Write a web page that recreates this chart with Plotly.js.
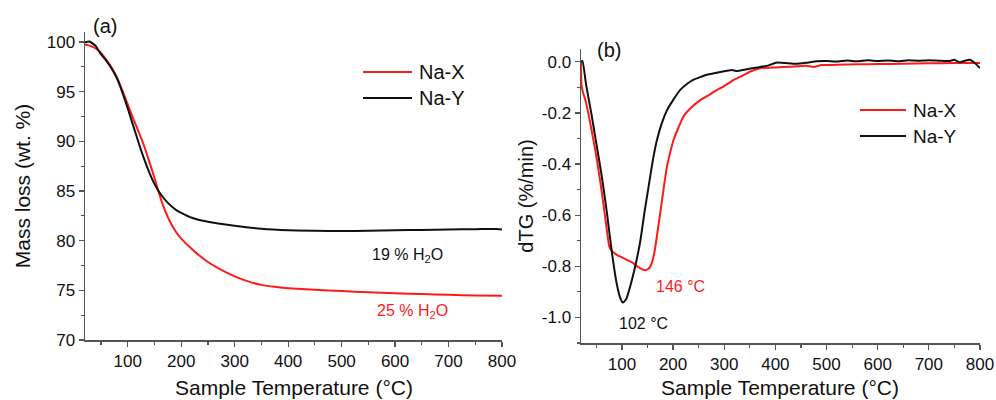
<!DOCTYPE html>
<html>
<head>
<meta charset="utf-8">
<script src="https://cdn.plot.ly/plotly-3.0.1.min.js"></script>
<style>html,body{margin:0;padding:0;background:#fff;}#chart{width:996px;height:400px;}</style>
</head>
<body>
<div id="chart"></div>
<script>
// ---- (a) TGA mass loss ----
const tgaNaX_T = [20,30,40,50,60,70,80,90,100,110,120,130,140,150,160,170,180,190,200,225,250,275,300,325,350,375,400,450,500,550,600,650,700,750,800];
const tgaNaX_M = [99.75,99.6,99.35,98.9,98.2,97.4,96.4,95.1,93.7,92.3,91.0,89.6,88.0,86.3,84.5,83.0,81.8,80.9,80.2,78.9,77.85,77.05,76.4,75.9,75.55,75.35,75.22,75.05,74.92,74.8,74.7,74.62,74.55,74.48,74.45];
const tgaNaY_T = [20,28,40,48,60,70,80,90,100,110,120,130,140,150,160,175,190,200,220,250,300,350,400,450,500,550,600,650,700,750,790,800];
const tgaNaY_M = [99.95,100.05,99.6,98.9,98.1,97.3,96.3,94.9,93.3,91.6,89.9,88.3,86.9,85.7,84.8,83.8,83.1,82.8,82.3,81.9,81.5,81.2,81.05,81.0,80.97,81.0,81.05,81.08,81.12,81.15,81.18,81.12];

// ---- (b) dTG ----
const dtgNaX_T = [20,21,24,30,40,50,60,70,75,80,90,100,110,120,130,140,146,152,158,164,170,175,182,188,195,201,210,220,235,253,270,286,300,318,335,351,370,400,430,460,475,490,520,560,600,650,700,750,800];
const dtgNaX_V = [0.0,-0.09,-0.12,-0.16,-0.26,-0.37,-0.5,-0.65,-0.72,-0.74,-0.755,-0.765,-0.775,-0.785,-0.8,-0.812,-0.815,-0.81,-0.79,-0.74,-0.66,-0.59,-0.49,-0.41,-0.35,-0.305,-0.26,-0.215,-0.18,-0.15,-0.13,-0.11,-0.095,-0.072,-0.055,-0.038,-0.025,-0.022,-0.019,-0.016,-0.02,-0.013,-0.012,-0.01,-0.009,-0.008,-0.006,-0.005,-0.005];
const dtgNaY_T = [20,23,30,40,50,60,70,80,90,97,102,108,116,126,136,144,152,160,168,178,188,200,214,227,240,253,266,285,305,315,325,344,365,383,403,420,440,460,481,500,520,540,560,580,600,620,640,660,680,700,720,740,750,760,770,780,790,800];
const dtgNaY_V = [0.0,0.003,-0.09,-0.2,-0.32,-0.44,-0.58,-0.74,-0.87,-0.925,-0.942,-0.93,-0.88,-0.8,-0.7,-0.59,-0.49,-0.39,-0.31,-0.24,-0.19,-0.15,-0.11,-0.087,-0.07,-0.06,-0.051,-0.043,-0.035,-0.032,-0.036,-0.029,-0.022,-0.016,-0.003,-0.005,-0.008,-0.004,0.002,0.003,0.001,0.005,0.002,0.006,0.003,0.005,0.002,0.006,0.004,0.006,0.004,0.003,0.008,-0.002,0.004,0.008,-0.005,-0.025];

// ---- tick labels ----
const xTickVals = [100,200,300,400,500,600,700,800];
const xTickText = ["100","200","300","400","500","600","700","800"];
const yaTickVals = [70,75,80,85,90,95,100];
const yaTickText = ["70","75","80","85","90","95","100"];
const ybTickVals = [-1.0,-0.8,-0.6,-0.4,-0.2,0.0];
const ybTickText = ["-1.0","-0.8","-0.6","-0.4","-0.2","0.0"];

const seriesNames = ["Na-X","Na-Y"];
const xTitle = "Sample Temperature (°C)";
const RED = "#ff1a1a", BLACK = "#111111";
const FONT = "Liberation Sans, Arial, sans-serif";

const traces = [
  {x: tgaNaX_T, y: tgaNaX_M, type:"scatter", mode:"lines", line:{color:RED,width:2,shape:"spline",smoothing:0.6}, xaxis:"x", yaxis:"y", name:seriesNames[0], showlegend:false},
  {x: tgaNaY_T, y: tgaNaY_M, type:"scatter", mode:"lines", line:{color:BLACK,width:2,shape:"spline",smoothing:0.6}, xaxis:"x", yaxis:"y", name:seriesNames[1], showlegend:false},
  {x: dtgNaX_T, y: dtgNaX_V, type:"scatter", mode:"lines", line:{color:RED,width:2,shape:"spline",smoothing:0.4}, xaxis:"x2", yaxis:"y2", name:seriesNames[0], showlegend:false},
  {x: dtgNaY_T, y: dtgNaY_V, type:"scatter", mode:"lines", line:{color:BLACK,width:2,shape:"spline",smoothing:0.4}, xaxis:"x2", yaxis:"y2", name:seriesNames[1], showlegend:false}
];

const axisCommon = {
  showgrid:false, zeroline:false, showline:true, linecolor:"#555", linewidth:1.5,
  ticks:"outside", ticklen:5, tickwidth:1.2, tickcolor:"#555",
  tickfont:{family:FONT,size:17,color:"#111"}, mirror:false
};

function P(px){return px/996;}
function Q(py){return 1-py/400;}

const layout = {
  width:996, height:400,
  margin:{l:0,r:0,t:0,b:0},
  paper_bgcolor:"#fff", plot_bgcolor:"#fff",
  font:{family:FONT,color:"#111"},
  xaxis: Object.assign({}, axisCommon, {
    domain:[P(85),P(502)], range:[20,800], tickmode:"array", tickvals:xTickVals, ticktext:xTickText,
    minor:{dtick:50, tick0:0, ticks:"outside", ticklen:3, tickcolor:"#555"},
    anchor:"y"
  }),
  yaxis: Object.assign({}, axisCommon, {
    domain:[Q(340),Q(32)], range:[70,101], tickmode:"array", tickvals:yaTickVals, ticktext:yaTickText,
    minor:{dtick:2.5, tick0:70, ticks:"outside", ticklen:3, tickcolor:"#555"},
    anchor:"x",
    title:{text:"Mass loss (wt. %)", font:{family:FONT,size:21,color:"#111"}, standoff:10}
  }),
  xaxis2: Object.assign({}, axisCommon, {
    domain:[P(581),P(980)], range:[20,800], tickmode:"array", tickvals:xTickVals, ticktext:xTickText,
    minor:{dtick:50, tick0:0, ticks:"outside", ticklen:3, tickcolor:"#555"},
    anchor:"y2"
  }),
  yaxis2: Object.assign({}, axisCommon, {
    domain:[Q(343),Q(49)], range:[-1.1,0.05], tickmode:"array", tickvals:ybTickVals, ticktext:ybTickText,
    minor:{dtick:0.1, tick0:0, ticks:"outside", ticklen:3, tickcolor:"#555"},
    anchor:"x2",
    title:{text:"dTG (%/min)", font:{family:FONT,size:20,color:"#111"}, standoff:3}
  }),
  shapes:[
    {type:"line", xref:"paper", yref:"paper", x0:P(363), x1:P(412), y0:Q(72), y1:Q(72), line:{color:RED,width:2}},
    {type:"line", xref:"paper", yref:"paper", x0:P(363), x1:P(412), y0:Q(98), y1:Q(98), line:{color:BLACK,width:2}},
    {type:"line", xref:"paper", yref:"paper", x0:P(860), x1:P(906), y0:Q(110), y1:Q(110), line:{color:RED,width:2}},
    {type:"line", xref:"paper", yref:"paper", x0:P(860), x1:P(906), y0:Q(136), y1:Q(136), line:{color:BLACK,width:2}}
  ],
  annotations:[
    {text:xTitle, xref:"paper", yref:"paper", x:P(293.5), y:Q(387), xanchor:"center", yanchor:"middle", showarrow:false, font:{family:FONT,size:21,color:"#111"}},
    {text:xTitle, xref:"paper", yref:"paper", x:P(780), y:Q(387), xanchor:"center", yanchor:"middle", showarrow:false, font:{family:FONT,size:21,color:"#111"}},
    {text:seriesNames[0], xref:"paper", yref:"paper", x:P(417), y:Q(72), xanchor:"left", yanchor:"middle", showarrow:false, font:{family:FONT,size:20,color:"#111"}},
    {text:seriesNames[1], xref:"paper", yref:"paper", x:P(417), y:Q(98), xanchor:"left", yanchor:"middle", showarrow:false, font:{family:FONT,size:20,color:"#111"}},
    {text:seriesNames[0], xref:"paper", yref:"paper", x:P(911), y:Q(110), xanchor:"left", yanchor:"middle", showarrow:false, font:{family:FONT,size:19,color:"#111"}},
    {text:seriesNames[1], xref:"paper", yref:"paper", x:P(911), y:Q(136), xanchor:"left", yanchor:"middle", showarrow:false, font:{family:FONT,size:19,color:"#111"}},
    {text:"(a)", xref:"paper", yref:"paper", x:P(105), y:Q(26), xanchor:"center", yanchor:"middle", showarrow:false, font:{family:FONT,size:20,color:"#111"}},
    {text:"(b)", xref:"paper", yref:"paper", x:P(609), y:Q(50), xanchor:"center", yanchor:"middle", showarrow:false, font:{family:FONT,size:20,color:"#111"}},
    {text:"19 % H<sub>2</sub>O", xref:"x", yref:"y", x:624, y:78.5, xanchor:"center", yanchor:"middle", showarrow:false, font:{family:FONT,size:16,color:"#111"}},
    {text:"25 % H<sub>2</sub>O", xref:"x", yref:"y", x:632, y:72.9, xanchor:"center", yanchor:"middle", showarrow:false, font:{family:FONT,size:16,color:RED}},
    {text:"146 °C", xref:"x2", yref:"y2", x:214, y:-0.879, xanchor:"center", yanchor:"middle", showarrow:false, font:{family:FONT,size:16,color:RED}},
    {text:"102 °C", xref:"x2", yref:"y2", x:143, y:-1.022, xanchor:"center", yanchor:"middle", showarrow:false, font:{family:FONT,size:16,color:"#111"}}
  ]
};

Plotly.newPlot("chart", traces, layout, {staticPlot:true, displayModeBar:false});
</script>
</body>
</html>
